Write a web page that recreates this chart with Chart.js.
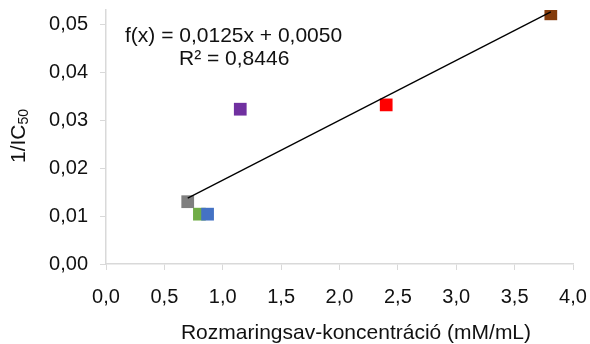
<!DOCTYPE html>
<html>
<head>
<meta charset="utf-8">
<script src="https://cdn.jsdelivr.net/npm/chart.js@4"></script>
<style>
  html, body { margin: 0; padding: 0; background: #fff; }
  #chart { display: block; }
</style>
</head>
<body>
<canvas id="chart" width="590" height="344"></canvas>
<script>
// adatok
const concentration = [0.70, 0.80, 0.87, 1.15, 2.40, 3.81];
const invIC50 = [0.0130, 0.0104, 0.0104, 0.0323, 0.0332, 0.0522];
const pointColors = ['#7f7f7f', '#70ad47', '#4472c4', '#7030a0', '#ff0000', '#843c0c'];
const xTicks = [0, 0.5, 1, 1.5, 2, 2.5, 3, 3.5, 4];
const yTicks = [0, 0.01, 0.02, 0.03, 0.04, 0.05];
const trendSlope = 0.0125;
const trendIntercept = 0.0050;
const equationText = 'f(x) = 0,0125x + 0,0050';
const r2Text = 'R² = 0,8446';
const xTitle = 'Rozmaringsav-koncentráció (mM/mL)';

const FONT = 'Liberation Sans, Arial, sans-serif';
const AXIS_COLOR = '#d9d9d9';
const TEXT_COLOR = '#111';

const xMin = Math.min(...concentration);
const xMax = Math.max(...concentration);
const trendPoints = [
    { x: xMin, y: trendSlope * xMin + trendIntercept },
    { x: xMax, y: trendSlope * xMax + trendIntercept }
];

const labelsPlugin = {
    id: 'labels',
    afterDraw(chart) {
        const c = chart.ctx;
        c.save();
        c.fillStyle = TEXT_COLOR;
        c.textBaseline = 'middle';

        // trendvonal egyenlete
        c.font = '21px ' + FONT;
        c.textAlign = 'left';
        c.fillText(equationText, 125, 36);
        c.fillText(r2Text, 179, 59);

        // x tengely címe
        c.textAlign = 'center';
        c.fillText(xTitle, 356, 333);

        // y tengely címe alsó indexszel
        c.translate(19, 136);
        c.rotate(-Math.PI / 2);
        const main = '1/IC';
        c.font = '21px ' + FONT;
        const w1 = c.measureText(main).width;
        c.font = '14px ' + FONT;
        const w2 = c.measureText('50').width;
        const start = -(w1 + w2) / 2;
        c.font = '21px ' + FONT;
        c.textAlign = 'left';
        c.fillText(main, start, 0);
        c.font = '14px ' + FONT;
        c.fillText('50', start + w1, 5);
        c.restore();
    }
};

new Chart(document.getElementById('chart'), {
    type: 'scatter',
    data: {
        datasets: [{
            data: trendPoints,
            showLine: true,
            borderColor: '#000',
            borderWidth: 1.3,
            pointRadius: 0,
            fill: false
        }, {
            data: concentration.map((x, i) => ({ x: x, y: invIC50[i] })),
            pointStyle: 'rect',
            pointRadius: 9,
            pointBackgroundColor: pointColors,
            pointBorderColor: pointColors,
            pointBorderWidth: 0,
            showLine: false
        }]
    },
    options: {
        responsive: false,
        animation: false,
        layout: { padding: { top: 10, right: 17, left: 0, bottom: 0 } },
        plugins: {
            legend: { display: false },
            tooltip: { enabled: false }
        },
        scales: {
            x: {
                type: 'linear',
                min: 0,
                max: 4,
                afterBuildTicks: (s) => { s.ticks = xTicks.map(v => ({ value: v })); },
                afterFit: (s) => { s.height = 80; s.paddingLeft = 0; s.paddingRight = 0; },
                grid: { drawOnChartArea: false, color: AXIS_COLOR, tickLength: 6 },
                border: { color: AXIS_COLOR, width: 1.5 },
                ticks: {
                    color: TEXT_COLOR,
                    font: { family: FONT, size: 20 },
                    padding: 15,
                    maxRotation: 0,
                    callback: (v) => v.toFixed(1).replace('.', ',')
                }
            },
            y: {
                type: 'linear',
                min: 0,
                max: 0.053,
                afterBuildTicks: (s) => { s.ticks = yTicks.map(v => ({ value: v })); },
                afterFit: (s) => { s.width = 106; s.paddingTop = 0; s.paddingBottom = 0; },
                grid: { drawOnChartArea: false, color: AXIS_COLOR, tickLength: 6 },
                border: { color: AXIS_COLOR, width: 1.5 },
                ticks: {
                    color: TEXT_COLOR,
                    font: { family: FONT, size: 20 },
                    padding: 12,
                    callback: (v) => v.toFixed(2).replace('.', ',')
                }
            }
        }
    },
    plugins: [labelsPlugin]
});
</script>
</body>
</html>
